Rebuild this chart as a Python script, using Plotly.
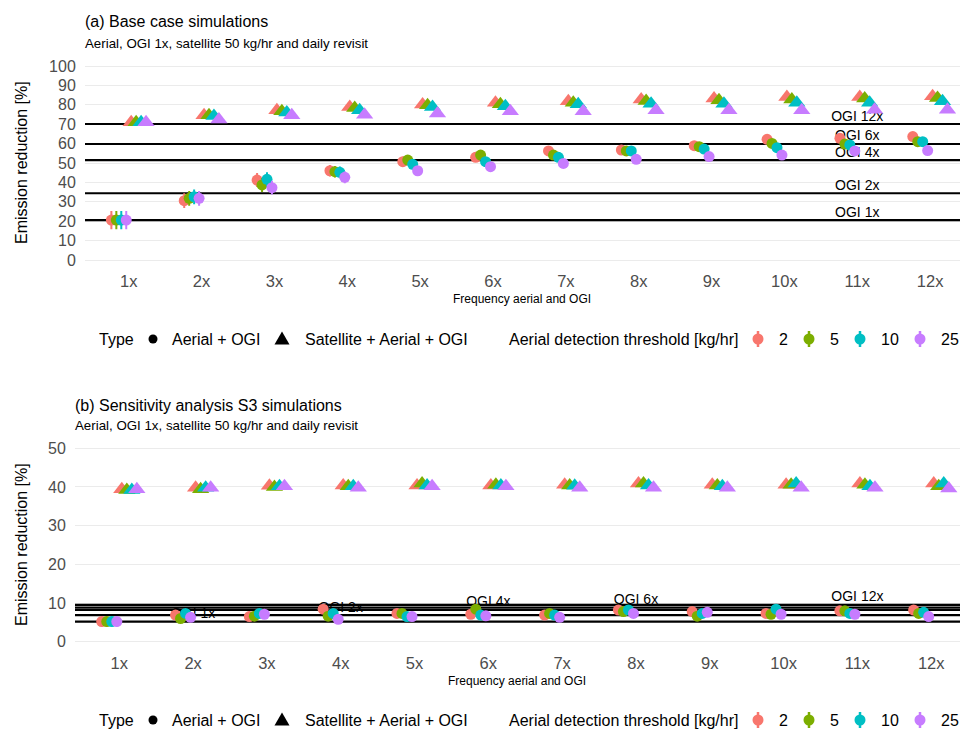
import plotly.graph_objects as go

# ---------------- data ----------------
freq_labels = ["1x", "2x", "3x", "4x", "5x", "6x", "7x", "8x", "9x", "10x", "11x", "12x"]
thresholds = ["2", "5", "10", "25"]
colors = ["#F8766D", "#7CAE00", "#00BFC4", "#C77CFF"]

# (a) base case - Aerial + OGI
a_aerial = {
    "2":  [20.6, 30.6, 41.2, 46.0, 50.7, 52.9, 56.2, 56.7, 58.9, 62.2, 62.7, 63.6],
    "5":  [20.6, 31.8, 38.7, 45.5, 51.5, 54.1, 54.1, 56.2, 58.4, 60.1, 59.8, 61.0],
    "10": [20.6, 32.6, 41.6, 45.2, 49.3, 50.7, 52.9, 56.2, 57.2, 57.9, 59.3, 61.0],
    "25": [20.6, 31.8, 37.3, 42.6, 46.0, 48.1, 49.8, 51.9, 53.3, 54.1, 56.2, 56.4],
}
# (a) base case - Satellite + Aerial + OGI
a_sat = {
    "2":  [71.0, 74.6, 77.2, 78.9, 80.1, 81.0, 81.8, 82.7, 83.2, 84.0, 84.0, 84.4],
    "5":  [71.0, 74.6, 76.7, 78.4, 79.8, 80.3, 81.1, 82.0, 82.3, 82.7, 83.2, 83.5],
    "10": [71.0, 74.2, 76.0, 77.2, 78.9, 79.2, 80.3, 80.6, 80.6, 81.1, 81.1, 81.8],
    "25": [71.0, 72.4, 74.6, 74.9, 75.5, 76.7, 76.7, 77.2, 77.2, 77.2, 77.5, 77.5],
}
a_aerial_err = [4.7, 3.8, 3.6, 3.0, 2.5, 2.3, 2.2, 2.0, 2.0, 2.0, 2.0, 2.0]
a_sat_err = [0.8] * 12
a_ogi_levels = ["OGI 1x", "OGI 2x", "OGI 4x", "OGI 6x", "OGI 12x"]
a_ogi_values = [20.6, 34.4, 51.5, 59.8, 70.1]
a_ogi_label_x = [11, 11, 11, 11, 11]

# (b) sensitivity S3 - Aerial + OGI
b_aerial = {
    "2":  [5.2, 6.9, 6.5, 8.4, 7.3, 7.1, 6.9, 8.2, 7.8, 7.3, 8.0, 8.2],
    "5":  [5.2, 6.0, 6.6, 6.6, 7.3, 8.4, 7.3, 7.8, 6.6, 7.1, 8.0, 7.3],
    "10": [5.2, 7.3, 7.3, 7.3, 6.5, 6.9, 6.9, 8.2, 7.3, 8.4, 7.3, 7.6],
    "25": [5.2, 6.3, 7.1, 5.8, 6.5, 6.7, 6.3, 7.3, 7.6, 7.1, 7.1, 6.5],
}
# (b) sensitivity S3 - Satellite + Aerial + OGI
b_sat = {
    "2":  [39.4, 39.8, 40.3, 40.4, 40.4, 40.4, 40.6, 40.9, 40.6, 40.6, 40.9, 40.9],
    "5":  [39.2, 39.4, 40.0, 40.2, 40.9, 40.6, 40.4, 40.9, 40.4, 40.6, 40.6, 40.2],
    "10": [39.2, 39.8, 40.2, 40.2, 40.4, 40.4, 40.3, 40.4, 40.2, 40.9, 40.2, 40.9],
    "25": [39.4, 39.8, 40.2, 39.8, 40.2, 40.2, 39.8, 39.8, 39.8, 39.8, 39.8, 39.6],
}
b_aerial_err = [1.3, 1.1, 1.0, 1.0, 1.0, 1.0, 1.0, 1.0, 1.0, 1.0, 1.0, 1.0]
b_sat_err = [0.4] * 12
b_ogi_levels = ["OGI 1x", "OGI 2x", "OGI 4x", "OGI 6x", "OGI 12x"]
b_ogi_values = [5.2, 6.9, 8.2, 8.8, 9.5]
b_ogi_label_x = [2, 4, 6, 8, 11]

# ---------------- styling / layout helpers ----------------
W, H = 962, 730
FONT = "Liberation Sans, Arial, sans-serif"
DODGE_STEP = 0.068
X_RANGES = {"x": [0.4, 12.41], "x2": [0.4, 12.39]}


def px(x):
    return x / W


def py(y):
    return 1 - y / H


fig = go.Figure()
shapes = []


def add_panel(xa, ya, aerial, sat, aerial_err, sat_err, ogi_levels, ogi_values, ogi_x):
    # OGI reference lines (as traces so that they sit above gridlines, below points)
    lo, hi = X_RANGES[xa]
    for lev, v in zip(ogi_levels, ogi_values):
        fig.add_trace(go.Scatter(
            x=[lo, hi], y=[v, v], mode="lines", line=dict(color="black", width=2.2),
            xaxis=xa, yaxis=ya, showlegend=False, hoverinfo="skip", name=lev))
    # OGI labels (drawn before points so points sit over them)
    fig.add_trace(go.Scatter(
        x=ogi_x, y=ogi_values, text=ogi_levels, mode="text",
        textposition="top center", textfont=dict(family=FONT, size=14, color="black"),
        xaxis=xa, yaxis=ya, showlegend=False, hoverinfo="skip", cliponaxis=False))
    base = list(range(1, len(freq_labels) + 1))
    k = 0
    for kind, data, err, symbol, size in [("Aerial + OGI", aerial, aerial_err, "circle", 11),
                                          ("Satellite + Aerial + OGI", sat, sat_err, "triangle-up", 15)]:
        for t, c in zip(thresholds, colors):
            off = (k - 3.5) * DODGE_STEP
            fig.add_trace(go.Scatter(
                x=[b + off for b in base], y=data[t], mode="markers",
                marker=dict(symbol=symbol, size=size, color=c, line=dict(width=0)),
                error_y=dict(type="data", array=err, width=0, thickness=2, color=c),
                xaxis=xa, yaxis=ya, showlegend=False,
                name=f"{kind}, {t} kg/hr"))
            k += 1


add_panel("x", "y", a_aerial, a_sat, a_aerial_err, a_sat_err, a_ogi_levels, a_ogi_values, a_ogi_label_x)
add_panel("x2", "y2", b_aerial, b_sat, b_aerial_err, b_sat_err, b_ogi_levels, b_ogi_values, b_ogi_label_x)

tick_font = dict(family=FONT, size=16, color="#4D4D4D")
xcommon = dict(tickmode="array", tickvals=list(range(1, 13)), ticktext=freq_labels,
               showgrid=False, zeroline=False, showline=False, ticks="",
               tickfont=dict(family=FONT, size=16.5, color="#4D4D4D"))
ycommon = dict(showgrid=True, gridcolor="#EBEBEB", gridwidth=1, zeroline=False, showline=False,
               ticks="outside", ticklen=5, tickcolor="rgba(0,0,0,0)", tickfont=tick_font)

fig.update_layout(
    width=W, height=H, margin=dict(l=0, r=0, t=0, b=0),
    paper_bgcolor="white", plot_bgcolor="white", showlegend=False,
    font=dict(family=FONT),
    xaxis=dict(domain=[px(85), px(960)], range=X_RANGES["x"], anchor="y", **xcommon),
    yaxis=dict(domain=[py(269.7), py(56.3)], range=[-5, 105], anchor="x",
               tickvals=list(range(0, 101, 10)), **ycommon),
    xaxis2=dict(domain=[px(75), px(960)], range=X_RANGES["x2"], anchor="y2", **xcommon),
    yaxis2=dict(domain=[py(651.4), py(438.6)], range=[-2.5, 52.5], anchor="x2",
                tickvals=list(range(0, 51, 10)), **ycommon),
)

ann = []


def text(x, y, s, size, color="black", xanchor="left", angle=0):
    ann.append(dict(x=px(x), y=py(y), xref="paper", yref="paper", text=s, showarrow=False,
                    xanchor=xanchor, yanchor="middle", textangle=angle,
                    font=dict(family=FONT, size=size, color=color)))


# titles
text(83, 22, "(a) Base case simulations", 16)
text(83, 43, "Aerial, OGI 1x, satellite 50 kg/hr and daily revisit", 13.3)
text(73, 405, "(b) Sensitivity analysis S3 simulations", 16)
text(73, 425, "Aerial, OGI 1x, satellite 50 kg/hr and daily revisit", 13.3)
# axis titles
text(21, 163, "Emission reduction [%]", 16, xanchor="center", angle=-90)
text(21, 545, "Emission reduction [%]", 16, xanchor="center", angle=-90)
text(522, 299, "Frequency aerial and OGI", 12, xanchor="center")
text(517, 681, "Frequency aerial and OGI", 12, xanchor="center")

# legends
for ly in (339, 720):
    text(97, ly, "Type", 16)
    shapes.append(dict(type="circle", xref="paper", yref="paper",
                       x0=px(153 - 4.5), x1=px(153 + 4.5), y0=py(ly + 4.5), y1=py(ly - 4.5),
                       fillcolor="black", line=dict(width=0)))
    text(170, ly, "Aerial + OGI", 16)
    tri = f"M {px(282 - 7.5):.5f},{py(ly + 5.5):.5f} L {px(282 + 7.5):.5f},{py(ly + 5.5):.5f} L {px(282):.5f},{py(ly - 7.5):.5f} Z"
    shapes.append(dict(type="path", xref="paper", yref="paper", path=tri,
                       fillcolor="black", line=dict(width=0)))
    text(303, ly, "Satellite + Aerial + OGI", 16)
    text(507, ly, "Aerial detection threshold [kg/hr]", 16)
    for gx, tx, lab, c in zip([758, 809, 860, 920], [777, 828, 879, 939], thresholds, colors):
        shapes.append(dict(type="line", xref="paper", yref="paper",
                           x0=px(gx), x1=px(gx), y0=py(ly + 8), y1=py(ly - 8),
                           line=dict(color=c, width=2.5)))
        shapes.append(dict(type="circle", xref="paper", yref="paper",
                           x0=px(gx - 5.5), x1=px(gx + 5.5), y0=py(ly + 5.5), y1=py(ly - 5.5),
                           fillcolor=c, line=dict(width=0)))
        text(tx, ly, lab, 16)

fig.update_layout(annotations=ann, shapes=shapes)

fig.write_html("out.html")
